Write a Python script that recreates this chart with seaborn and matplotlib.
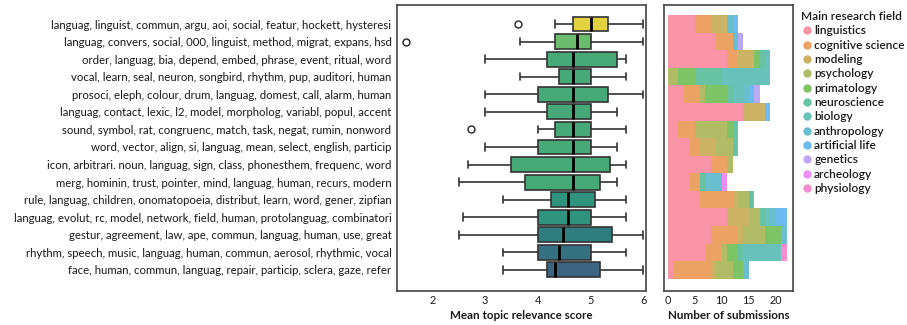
import numpy as np
import pandas as pd
import matplotlib
matplotlib.use("Agg")
import matplotlib.pyplot as plt
from matplotlib.lines import Line2D
from matplotlib.colors import Normalize
import seaborn as sns

# ---------------- data ----------------
topics = [
    "languag, linguist, commun, argu, aoi, social, featur, hockett, hysteresi",
    "languag, convers, social, 000, linguist, method, migrat, expans, hsd",
    "order, languag, bia, depend, embed, phrase, event, ritual, word",
    "vocal, learn, seal, neuron, songbird, rhythm, pup, auditori, human",
    "prosoci, eleph, colour, drum, languag, domest, call, alarm, human",
    "languag, contact, lexic, l2, model, morpholog, variabl, popul, accent",
    "sound, symbol, rat, congruenc, match, task, negat, rumin, nonword",
    "word, vector, align, si, languag, mean, select, english, particip",
    "icon, arbitrari. noun, languag, sign, class, phonesthem, frequenc, word",
    "merg, hominin, trust, pointer, mind, languag, human, recurs, modern",
    "rule, languag, children, onomatopoeia, distribut, learn, word, gener, zipfian",
    "languag, evolut, rc, model, network, field, human, protolanguag, combinatori",
    "gestur, agreement, law, ape, commun, languag, human, use, great",
    "rhythm, speech, music, languag, human, commun, aerosol, rhythmic, vocal",
    "face, human, commun, languag, repair, particip, sclera, gaze, refer",
]

# five-number summaries of the mean topic relevance score
whisk_lo = [4.33, 3.67, 3.00, 3.67, 3.00, 3.00, 4.00, 3.00, 2.67, 2.50, 3.33, 2.58, 2.50, 3.33, 3.33]
quart_1  = [4.67, 4.32, 4.17, 4.40, 4.00, 4.17, 4.33, 4.00, 3.50, 3.75, 4.25, 4.00, 4.00, 4.00, 4.17]
medians  = [5.00, 4.75, 4.67, 4.67, 4.67, 4.67, 4.67, 4.67, 4.67, 4.67, 4.58, 4.58, 4.47, 4.40, 4.33]
quart_3  = [5.33, 5.00, 5.50, 5.00, 5.33, 5.00, 5.00, 5.00, 5.36, 5.17, 5.08, 5.00, 5.40, 5.00, 5.17]
whisk_hi = [6.00, 6.00, 5.67, 5.67, 6.00, 5.50, 5.67, 5.50, 5.67, 5.50, 5.67, 5.67, 6.00, 5.67, 6.00]
outliers = {0: [3.62], 1: [1.50], 6: [2.74]}

fields = ["linguistics", "cognitive science", "modeling", "psychology", "primatology",
          "neuroscience", "biology", "anthropology", "artificial life", "genetics",
          "archeology", "physiology"]

# number of submissions per topic (rows) and main research field
linguistics     = [5, 9, 11, 0, 3, 14, 2, 4, 8, 4, 6, 11, 8, 7, 1]
cognitive_sci   = [3, 3, 2, 0, 3, 0, 3, 2, 3, 2, 6, 0, 5, 3, 7]
modeling        = [3, 0, 3, 0, 0, 4, 0, 3, 0, 0, 1, 4, 1, 0, 1]
psychology      = [0, 0, 0, 2, 1, 0, 6, 3, 1, 0, 2, 2, 4, 1, 3]
primatology     = [0, 0, 1, 3, 4, 0, 1, 0, 0, 0, 0, 0, 3, 2, 2]
neuroscience    = [0, 0, 1, 5, 1, 0, 1, 1, 0, 1, 1, 1, 0, 1, 0]
biology         = [0, 0, 1, 9, 2, 0, 0, 0, 0, 0, 0, 1, 0, 7, 0]
anthropology    = [1, 1, 0, 0, 1, 0, 0, 0, 0, 3, 0, 1, 1, 0, 1]
artificial_life = [1, 0, 0, 0, 1, 1, 0, 0, 0, 0, 0, 2, 0, 0, 0]
genetics        = [0, 1, 0, 0, 1, 0, 0, 0, 0, 0, 0, 0, 0, 0, 0]
archeology      = [0, 0, 0, 0, 0, 0, 0, 0, 0, 1, 0, 0, 0, 0, 0]
physiology      = [0, 0, 0, 0, 0, 0, 0, 0, 0, 0, 0, 0, 0, 1, 0]
field_counts = [linguistics, cognitive_sci, modeling, psychology, primatology, neuroscience,
                biology, anthropology, artificial_life, genetics, archeology, physiology]

# ---------------- build tables ----------------
rows = []
for i, t in enumerate(topics):
    fl = outliers.get(i, [])
    obs = [whisk_lo[i], quart_1[i], quart_1[i], quart_1[i], medians[i],
           quart_3[i], quart_3[i], quart_3[i], whisk_hi[i]]
    for f in fl:
        obs += [f, whisk_hi[i]]
    rows += [(t, v) for v in obs]
box_df = pd.DataFrame(rows, columns=["topic", "score"])

bar_rows = []
for f, counts in zip(fields, field_counts):
    for i, c in enumerate(counts):
        if c > 0:
            bar_rows.append((i, f, c))
bar_df = pd.DataFrame(bar_rows, columns=["row", "field", "count"])

# ---------------- style ----------------
sns.set_theme(style="white")
plt.rcParams["font.family"] = ["Lato", "DejaVu Sans"]
plt.rcParams["text.color"] = "#1a1a1a"
plt.rcParams["axes.labelcolor"] = "#1a1a1a"
plt.rcParams["xtick.color"] = "#1a1a1a"
plt.rcParams["ytick.color"] = "#1a1a1a"

fig = plt.figure(figsize=(9.07, 3.25), dpi=100)
ax1 = fig.add_axes([397 / 907, 34 / 325, 249 / 907, 286.3 / 325])
ax2 = fig.add_axes([664.3 / 907, 34 / 325, 128.4 / 907, 286.3 / 325])

norm = Normalize(vmin=4.0, vmax=5.0)
cmap = matplotlib.colormaps["viridis"]
box_pal = {t: cmap(norm(m)) for t, m in zip(topics, medians)}

sns.boxplot(data=box_df, x="score", y="topic", order=topics, hue="topic",
            hue_order=topics, palette=box_pal, legend=False, width=0.85,
            linecolor="#333333", linewidth=1.2, fliersize=5,
            medianprops=dict(color="black", linewidth=2),
            flierprops=dict(marker="o", markerfacecolor="none",
                            markeredgecolor="#222222", markeredgewidth=1.0),
            ax=ax1)
ax1.set_xlim(1.33, 6.05)
ax1.set_ylim(15.2, -1.1)
ax1.set_xticks([2, 3, 4, 5, 6])
ax1.set_ylabel("")
ax1.set_xlabel("Mean topic relevance score", fontsize=8.4, fontweight="bold", labelpad=3)
ax1.tick_params(axis="both", length=0)
ax1.tick_params(axis="x", labelsize=7.8, pad=3)
ax1.tick_params(axis="y", labelsize=8.2, pad=4)

field_pal = dict(zip(fields, sns.husl_palette(12)))
sns.histplot(data=bar_df, y="row", hue="field", weights="count", multiple="stack",
             discrete=True, shrink=1, hue_order=fields[::-1], palette=field_pal,
             alpha=0.75, linewidth=0, legend=False, ax=ax2)
ax2.set_xlim(-0.6, 23.1)
ax2.set_ylim(15.2, -1.1)
ax2.set_xticks([0, 5, 10, 15, 20])
ax2.set_yticks([])
ax2.set_ylabel("")
ax2.set_xlabel("Number of submissions", fontsize=8.4, fontweight="bold", labelpad=3)
ax2.tick_params(axis="both", length=0)
ax2.tick_params(axis="x", labelsize=7.8, pad=3)

for ax in (ax1, ax2):
    for s in ax.spines.values():
        s.set_color("#444444")
        s.set_linewidth(1.2)

handles = [Line2D([], [], marker="o", linestyle="none", markersize=6,
                  markerfacecolor=field_pal[f], markeredgecolor="none", alpha=0.75)
           for f in fields]
leg = fig.legend(handles, fields, loc="upper left", bbox_to_anchor=(801 / 907, 1 - 11 / 325),
                 frameon=False, title="Main research field", fontsize=8.6,
                 title_fontproperties=dict(size=8.6, weight="semibold"),
                 handletextpad=0.1, labelspacing=0.28, borderaxespad=0, borderpad=0,
                 handlelength=1.0)
leg._legend_box.align = "left"
for txt in leg.get_texts():
    txt.set_fontweight("semibold")

fig.savefig("out.png", dpi=100)
